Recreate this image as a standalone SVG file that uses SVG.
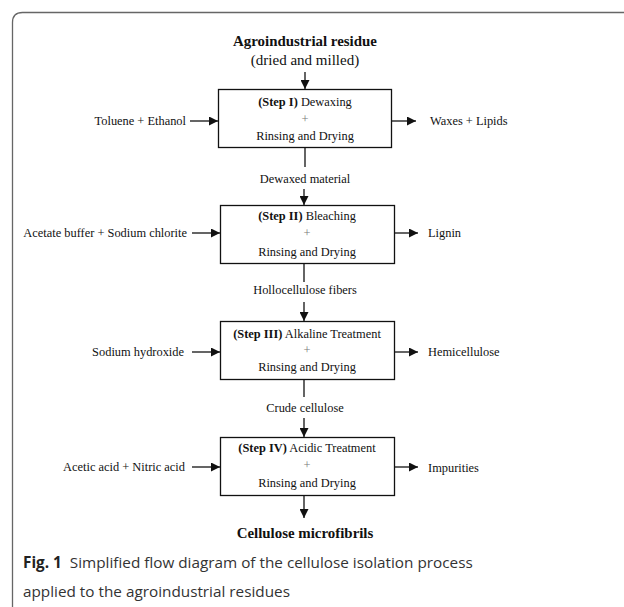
<svg xmlns="http://www.w3.org/2000/svg" width="624" height="607" viewBox="0 0 624 607">
<style>
.t{font-family:"Liberation Serif","Times New Roman",serif;font-size:12.4px;fill:#111}
.b{font-weight:bold}
.p{fill:#777}
.h{font-family:"Liberation Serif","Times New Roman",serif;font-size:14.9px;font-weight:bold;fill:#111}
.s{font-family:"Liberation Serif","Times New Roman",serif;font-size:15px;fill:#111}
.box{fill:#fff;stroke:#111;stroke-width:1.3}
.ln{stroke:#111;stroke-width:1.3;fill:none}
.cap{font-family:"Open Sans","Noto Sans",sans-serif;font-size:15.3px;fill:#333}
</style>
<defs>
<marker id="ah" viewBox="0 0 10 10" refX="10" refY="5" markerWidth="9" markerHeight="9" markerUnits="userSpaceOnUse" orient="auto">
<path d="M0,0 L10,5 L0,10 z" fill="#111"/>
</marker>
</defs>
<rect width="624" height="607" fill="#fff"/>
<path d="M12.5,607 V22.5 Q12.5,12.5 22.5,12.5 H624" fill="none" stroke="#666" stroke-width="1.3"/>

<g id="title">
<text class="h" x="305" y="46" text-anchor="middle">Agroindustrial residue</text>
<text class="s" x="305" y="65" text-anchor="middle">(dried and milled)</text>
</g>

<g id="step1">
<rect class="box" x="218.5" y="89.5" width="173" height="58"/>
<text class="t" x="305" y="106" text-anchor="middle"><tspan class="b">(Step I)</tspan> Dewaxing</text>
<text class="t p" x="305" y="123" text-anchor="middle">+</text>
<text class="t" x="305" y="140" text-anchor="middle">Rinsing and Drying</text>
</g>
<g id="step2">
<rect class="box" x="220.5" y="205.5" width="174" height="58"/>
<text class="t" x="307" y="220" text-anchor="middle"><tspan class="b">(Step II)</tspan> Bleaching</text>
<text class="t p" x="307" y="237" text-anchor="middle">+</text>
<text class="t" x="307" y="256" text-anchor="middle">Rinsing and Drying</text>
</g>
<g id="step3">
<rect class="box" x="220.5" y="321.5" width="174" height="58"/>
<text class="t" x="307" y="338" text-anchor="middle"><tspan class="b">(Step III)</tspan> Alkaline Treatment</text>
<text class="t p" x="307" y="354" text-anchor="middle">+</text>
<text class="t" x="307" y="371" text-anchor="middle">Rinsing and Drying</text>
</g>
<g id="step4">
<rect class="box" x="220.5" y="437.5" width="174" height="58"/>
<text class="t" x="307" y="452" text-anchor="middle"><tspan class="b">(Step IV)</tspan> Acidic Treatment</text>
<text class="t p" x="307" y="469" text-anchor="middle">+</text>
<text class="t" x="307" y="487" text-anchor="middle">Rinsing and Drying</text>
</g>

<g id="inputs">
<text class="t" x="186" y="125" text-anchor="end">Toluene + Ethanol</text>
<text class="t" x="187" y="237" text-anchor="end">Acetate buffer + Sodium chlorite</text>
<text class="t" x="184" y="356" text-anchor="end">Sodium hydroxide</text>
<text class="t" x="185" y="471" text-anchor="end">Acetic acid + Nitric acid</text>
</g>
<g id="outputs">
<text class="t" x="430" y="125">Waxes + Lipids</text>
<text class="t" x="428" y="237">Lignin</text>
<text class="t" x="428" y="356">Hemicellulose</text>
<text class="t" x="428" y="472">Impurities</text>
</g>
<g id="intermediates">
<text class="t" x="305" y="183" text-anchor="middle">Dewaxed material</text>
<text class="t" x="305" y="294" text-anchor="middle">Hollocellulose fibers</text>
<text class="t" x="305" y="412" text-anchor="middle">Crude cellulose</text>
<text class="h" x="305" y="538" text-anchor="middle">Cellulose microfibrils</text>
</g>

<g id="connectors">
<line class="ln" x1="305" y1="72" x2="305" y2="89" marker-end="url(#ah)"/>
<line class="ln" x1="305" y1="147" x2="305" y2="167"/>
<line class="ln" x1="304" y1="189" x2="304" y2="205" marker-end="url(#ah)"/>
<line class="ln" x1="304" y1="263" x2="304" y2="282"/>
<line class="ln" x1="304" y1="302" x2="304" y2="321" marker-end="url(#ah)"/>
<line class="ln" x1="304" y1="379" x2="304" y2="397"/>
<line class="ln" x1="304" y1="418" x2="304" y2="437" marker-end="url(#ah)"/>
<line class="ln" x1="304" y1="495" x2="304" y2="518" marker-end="url(#ah)"/>
<line class="ln" x1="190" y1="121" x2="218" y2="121" marker-end="url(#ah)"/>
<line class="ln" x1="192" y1="233" x2="220" y2="233" marker-end="url(#ah)"/>
<line class="ln" x1="192" y1="352" x2="220" y2="352" marker-end="url(#ah)"/>
<line class="ln" x1="192" y1="467" x2="220" y2="467" marker-end="url(#ah)"/>
<line class="ln" x1="392" y1="121" x2="416" y2="121" marker-end="url(#ah)"/>
<line class="ln" x1="395" y1="233" x2="418" y2="233" marker-end="url(#ah)"/>
<line class="ln" x1="395" y1="352" x2="418" y2="352" marker-end="url(#ah)"/>
<line class="ln" x1="395" y1="467" x2="418" y2="467" marker-end="url(#ah)"/>
</g>

<g id="caption">
<text class="cap" x="23" y="568"><tspan font-weight="bold" fill="#222">Fig. 1</tspan><tspan dx="8">Simplified flow diagram of the cellulose isolation process</tspan></text>
<text class="cap" x="23" y="597">applied to the agroindustrial residues</text>
</g>
</svg>
